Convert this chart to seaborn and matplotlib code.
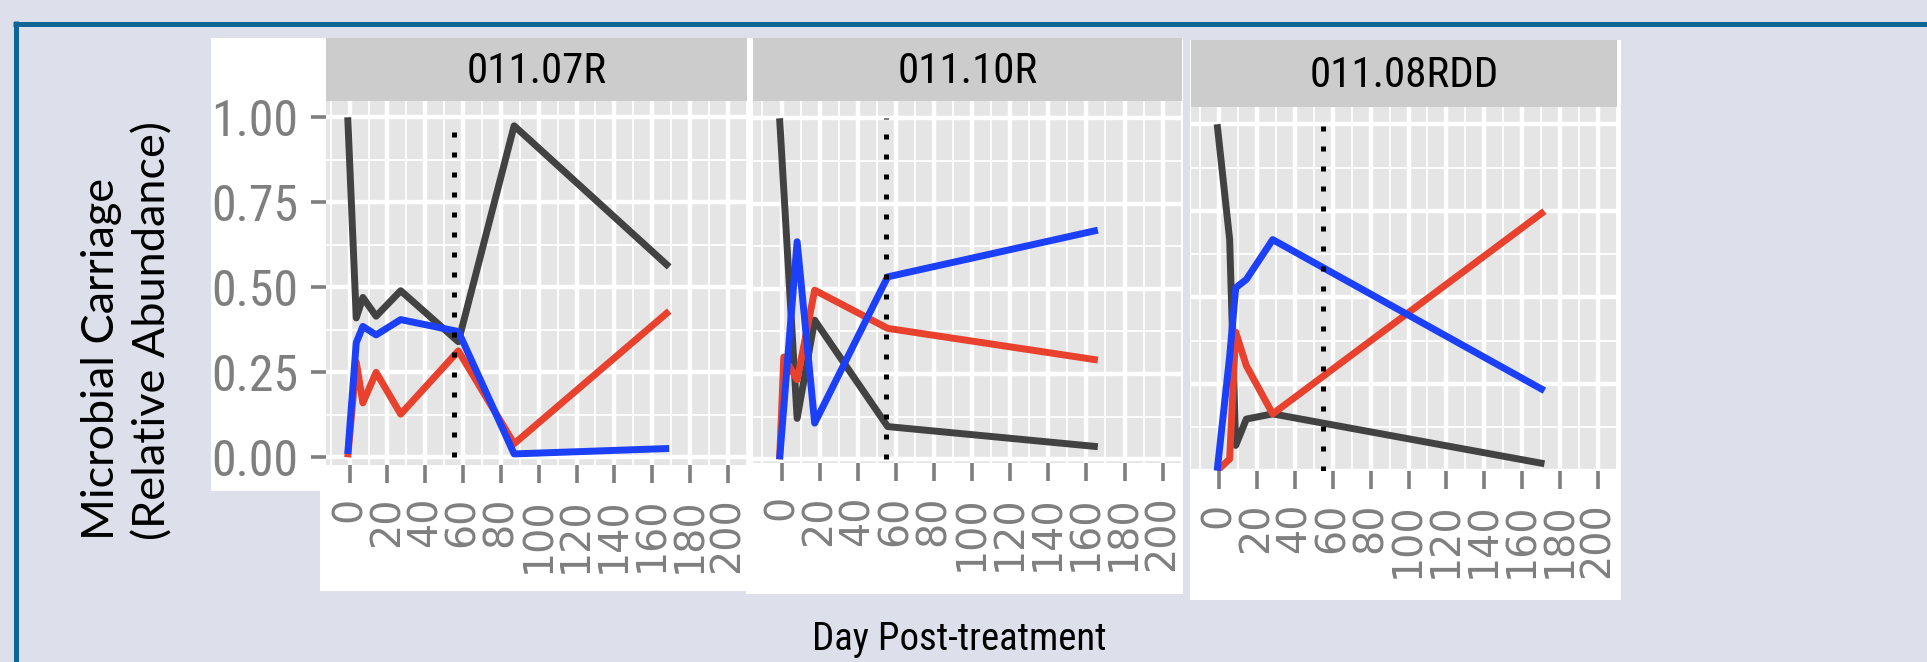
import matplotlib
matplotlib.use("Agg")
import matplotlib.pyplot as plt
from matplotlib.patches import Rectangle
from matplotlib.lines import Line2D
from matplotlib import font_manager as fm
import numpy as np
import pandas as pd
import seaborn as sns

# ---------------- data ----------------
PANELS = ["011.07R", "011.10R", "011.08RDD"]
SERIES = ["Taxon 1", "Taxon 2", "Taxon 3"]          # black, red, blue

P1_DAY = [-1, 3.5, 7, 14, 27, 57.5, 87, 169]
P1_S1 = [1.00, 0.41, 0.47, 0.415, 0.49, 0.34, 0.975, 0.56]
P1_S2 = [0.00, 0.28, 0.16, 0.25, 0.127, 0.313, 0.04, 0.43]
P1_S3 = [0.01, 0.337, 0.385, 0.36, 0.405, 0.37, 0.01, 0.026]

P2_DAY = [-1, 1.2, 8.2, 17.4, 55.7, 166]
P2_S1 = [1.00, 0.79, 0.12, 0.408, 0.096, 0.037]
P2_S2 = [0.00, 0.30, 0.233, 0.496, 0.384, 0.291]
P2_S3 = [0.00, 0.153, 0.638, 0.106, 0.535, 0.672]

P3_DAY = [-1, 5.6, 8.8, 14.4, 28.3, 171.7]
P3_S1 = [1.00, 0.667, 0.073, 0.149, 0.164, 0.02]
P3_S2 = [0.00, 0.034, 0.40, 0.303, 0.164, 0.749]
P3_S3 = [0.00, 0.33, 0.528, 0.552, 0.667, 0.231]

TREATMENT_END_DAY = 55
X_TICKS = [0, 20, 40, 60, 80, 100, 120, 140, 160, 180, 200]
Y_TICKS = [0.00, 0.25, 0.50, 0.75, 1.00]
Y_TICK_LABELS = ["0.00", "0.25", "0.50", "0.75", "1.00"]
Y_TITLE = "Microbial Carriage\n(Relative Abundance)"
X_TITLE = "Day Post-treatment"

rows = []
for panel, day, series_vals in [
    (PANELS[0], P1_DAY, [P1_S1, P1_S2, P1_S3]),
    (PANELS[1], P2_DAY, [P2_S1, P2_S2, P2_S3]),
    (PANELS[2], P3_DAY, [P3_S1, P3_S2, P3_S3]),
]:
    for name, vals in zip(SERIES, series_vals):
        for d, v in zip(day, vals):
            rows.append({"panel": panel, "day": d, "series": name, "value": v})
df = pd.DataFrame(rows)

# ---------------- styling ----------------
sns.set_theme(style="white")
plt.rcParams["font.family"] = ["Liberation Sans", "DejaVu Sans"]

# pick a narrow face if one is installed
_fonts = fm.fontManager.ttflist
_names = {f.name for f in _fonts}
NARROW_STRETCH = "normal"
NARROW_SCALE = 1.0
for cand in ["Liberation Sans Narrow", "Roboto Condensed", "Open Sans Condensed",
             "DejaVu Sans Condensed", "Noto Sans Condensed", "Arial Narrow"]:
    if cand in _names:
        NARROW = [cand, "DejaVu Sans"]
        break
else:
    if any(f.name == "DejaVu Sans" and str(f.stretch) in ("condensed", "semi-condensed", "600", "700")
           for f in _fonts):
        NARROW = ["DejaVu Sans"]
        NARROW_STRETCH = "condensed"
        NARROW_SCALE = 0.92
    else:
        NARROW = ["Liberation Sans", "DejaVu Sans"]
        NARROW_SCALE = 0.86

XTICK_FONT = ["DejaVu Sans"]
TITLE_FONT = ["Lato", "DejaVu Sans"]

PALETTE = {SERIES[0]: "#424242", SERIES[1]: "#e8412d", SERIES[2]: "#1c3ff8"}
BG = "#dde0ea"
FRAME = "#0d6696"
PANEL_BG = "#e5e5e5"
STRIP_BG = "#cccccc"
TICK_GREY = "#7f7f7f"
LINE_W = 5.0

W, H = 1927, 662
fig = plt.figure(figsize=(W / 100, H / 100), dpi=100)
fig.patch.set_facecolor(BG)


def fbox(l, t, r, b):
    return [l / W, 1 - b / H, (r - l) / W, (b - t) / H]


def frect(l, t, r, b, color):
    fig.patches.append(Rectangle((l / W, 1 - b / H), (r - l) / W, (b - t) / H,
                                 transform=fig.transFigure, facecolor=color,
                                 edgecolor="none", zorder=-5))


# poster frame (top and left edges visible)
fig.lines.append(Line2D([15.8 / W, 15.8 / W], [0, 1 - 21 / H], transform=fig.transFigure,
                        color=FRAME, linewidth=3.6, solid_capstyle="butt", zorder=-5))
fig.lines.append(Line2D([13.3 / W, 1.0], [1 - 23.5 / H, 1 - 23.5 / H], transform=fig.transFigure,
                        color=FRAME, linewidth=3.6, solid_capstyle="butt", zorder=-5))

# white backing pieces of the pasted figure
frect(211, 38, 326, 491, "white")
frect(320, 460, 747, 591, "white")
frect(746, 38, 1183, 594, "white")
frect(1190, 40, 1621, 600, "white")

# layout of each facet: panel box, strip box, x-limits, y-limits
LAYOUT = [
    dict(panel=(326, 100.7, 746.7, 465), strip=(326, 38.3, 746.7, 100.7),
         xlim=(-12.5, 207.2), ylim=(-0.0226, 1.0488)),
    dict(panel=(753.3, 100.7, 1181.7, 463.3), strip=(753.3, 38.3, 1181.7, 100.7),
         xlim=(-14.8, 208.9), ylim=(-0.0117, 1.0516)),
    dict(panel=(1191, 107.3, 1617, 470.7), strip=(1191, 40, 1617, 107.3),
         xlim=(-14.8, 208.5), ylim=(0.0035, 1.0489)),
]

for i, (panel, lay) in enumerate(zip(PANELS, LAYOUT)):
    ax = fig.add_axes(fbox(*lay["panel"]))
    ax.set_zorder(2)
    ax.set_facecolor(PANEL_BG)
    sub = df[df["panel"] == panel]
    sns.lineplot(data=sub, x="day", y="value", hue="series", hue_order=SERIES,
                 palette=PALETTE, linewidth=LINE_W, estimator=None, legend=False,
                 ax=ax)
    for ln in ax.lines:
        ln.set_linewidth(LINE_W)
        ln.set_solid_capstyle("butt")
        ln.set_solid_joinstyle("round")
        ln.set_zorder(3)
    ax.vlines(TREATMENT_END_DAY, 0, 1, colors="black", linestyles=(0, (1, 3)),
              linewidth=3.6, zorder=4)

    ax.set_xlim(*lay["xlim"])
    ax.set_ylim(*lay["ylim"])
    ax.set_xticks(X_TICKS, [str(t) for t in X_TICKS], family=XTICK_FONT,
                  fontsize=28.5, color=TICK_GREY, rotation=90)
    ax.set_xticks(np.arange(-10, 211, 20), minor=True)
    ax.set_yticks([0.125, 0.375, 0.625, 0.875], minor=True)
    if i == 0:
        ax.set_yticks(Y_TICKS, Y_TICK_LABELS, family=NARROW, stretch=NARROW_STRETCH,
                      fontsize=36 * NARROW_SCALE + (4 if NARROW_SCALE < 0.9 else 0),
                      color=TICK_GREY)
        ax.tick_params(axis="y", which="major", length=10.8, width=2.6, color=TICK_GREY,
                       pad=9, left=True)
    else:
        ax.set_yticks(Y_TICKS)
        ax.tick_params(axis="y", which="major", length=0, labelleft=False)
    ax.grid(which="major", color="white", linewidth=3.2)
    ax.grid(which="minor", color="white", linewidth=1.3)
    ax.set_axisbelow(True)
    for s in ax.spines.values():
        s.set_visible(False)
    ax.tick_params(axis="x", which="major", length=13, width=2.6, color=TICK_GREY,
                   pad=10, bottom=True)
    ax.tick_params(axis="both", which="minor", length=0)
    ax.set_xlabel("")
    ax.set_ylabel("")

    sax = fig.add_axes(fbox(*lay["strip"]))
    sax.set_zorder(2)
    sax.set_facecolor(STRIP_BG)
    sax.set_xticks([])
    sax.set_yticks([])
    for s in sax.spines.values():
        s.set_visible(False)
    sax.text(0.5, 0.47, panel, ha="center", va="center",
             fontsize=31 * NARROW_SCALE, family=NARROW, stretch=NARROW_STRETCH,
             color="black", transform=sax.transAxes)

fig.text(127 / W, 1 - 331 / H, Y_TITLE, rotation=90, ha="center", va="center",
         multialignment="left", fontsize=32.5, family=TITLE_FONT, color="black",
         linespacing=1.3)
fig.text(959 / W, 1 - 640 / H, X_TITLE, ha="center", va="center",
         fontsize=28 * NARROW_SCALE, family=NARROW, stretch=NARROW_STRETCH,
         color="black")

fig.savefig("out.png", dpi=100, facecolor=BG)
